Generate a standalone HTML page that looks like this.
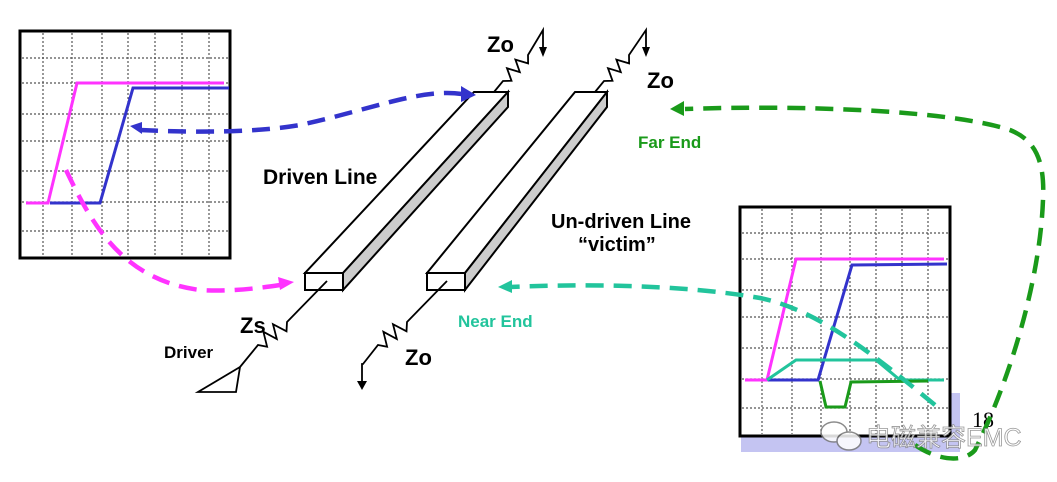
<!DOCTYPE html>
<html><head><meta charset="utf-8"><style>
html,body{margin:0;padding:0;background:#fff;}
svg{display:block;}
text{font-family:"Liberation Sans","Noto Sans CJK SC",sans-serif;font-weight:bold;}
</style></head><body>
<svg width="1057" height="482" viewBox="0 0 1057 482" xmlns="http://www.w3.org/2000/svg">
<!-- left scope -->
<rect x="20" y="31" width="210" height="227" fill="#fff" stroke="#000" stroke-width="3"/>
<g stroke="#555" stroke-width="1.2" stroke-dasharray="2,2">
<line x1="43" y1="33" x2="43" y2="256"/><line x1="72" y1="33" x2="72" y2="256"/><line x1="102" y1="33" x2="102" y2="256"/><line x1="128" y1="33" x2="128" y2="256"/><line x1="155" y1="33" x2="155" y2="256"/><line x1="182" y1="33" x2="182" y2="256"/><line x1="209" y1="33" x2="209" y2="256"/>
<line x1="22" y1="58" x2="228" y2="58"/><line x1="22" y1="83" x2="228" y2="83"/><line x1="22" y1="114" x2="228" y2="114"/><line x1="22" y1="141" x2="228" y2="141"/><line x1="22" y1="171" x2="228" y2="171"/><line x1="22" y1="202" x2="228" y2="202"/><line x1="22" y1="231" x2="228" y2="231"/>
</g>
<polyline points="26,203 48,203 77,83 224,83" fill="none" stroke="#ff33ff" stroke-width="3"/>
<polyline points="50,203 100,203 133,88 229,88" fill="none" stroke="#3333cc" stroke-width="3"/>
<!-- right scope -->
<rect x="741" y="393" width="219" height="59" fill="#c4c4f2"/>
<rect x="740" y="207" width="210" height="229" fill="#fff" stroke="#000" stroke-width="3"/>
<g stroke="#555" stroke-width="1.2" stroke-dasharray="2,2">
<line x1="762" y1="209" x2="762" y2="434"/><line x1="792" y1="209" x2="792" y2="434"/><line x1="821" y1="209" x2="821" y2="434"/><line x1="850" y1="209" x2="850" y2="434"/><line x1="876" y1="209" x2="876" y2="434"/><line x1="902" y1="209" x2="902" y2="434"/><line x1="928" y1="209" x2="928" y2="434"/>
<line x1="742" y1="233" x2="948" y2="233"/><line x1="742" y1="259" x2="948" y2="259"/><line x1="742" y1="290" x2="948" y2="290"/><line x1="742" y1="317" x2="948" y2="317"/><line x1="742" y1="348" x2="948" y2="348"/><line x1="742" y1="379" x2="948" y2="379"/><line x1="742" y1="408" x2="948" y2="408"/>
</g>
<polyline points="745,380 767,380 796,259 944,259" fill="none" stroke="#ff33ff" stroke-width="3"/>
<polyline points="768,380 818,380 852,265 947,264" fill="none" stroke="#3333cc" stroke-width="3"/>
<polyline points="767,380 796,360 876,360 900,380 944,380" fill="none" stroke="#22c49c" stroke-width="3"/>
<polyline points="820,381 826,407 845,407 851,382 928,381" fill="none" stroke="#1a9a1a" stroke-width="3"/>
<text x="972" y="427" font-size="22" style="font-family:'Liberation Serif',serif;font-weight:normal">18</text>
<!-- bars -->
<polygon points="305,273 343,273 508,92 474,92" fill="#fff" stroke="#000" stroke-width="2"/>
<polygon points="343,273 343,290 508,107 508,92" fill="#ccc" stroke="#000" stroke-width="2"/>
<rect x="305" y="273" width="38" height="17" fill="#fff" stroke="#000" stroke-width="2"/>
<polygon points="427,273 465,273 607,92 575,92" fill="#fff" stroke="#000" stroke-width="2"/>
<polygon points="465,273 465,290 607,107 607,92" fill="#ccc" stroke="#000" stroke-width="2"/>
<rect x="427" y="273" width="38" height="17" fill="#fff" stroke="#000" stroke-width="2"/>
<!-- circuits -->
<g fill="none" stroke="#000" stroke-width="1.8" stroke-linejoin="miter">
<polyline points="327,281 287,322 286.5,331.3 273,324.2 276.8,339 263.4,331.8 267.1,346.7 258,345 240,367"/>
<polygon points="198,392 236,392 240,367"/>
<polyline points="447,281 407,322 406.5,331.3 393,324.2 396.8,339 383.4,331.8 387.1,346.7 378,345 363,364 362,364 362,383"/>
<polyline points="494,92 503,81 511.5,80.8 507,68.2 519.8,72.1 515.4,59.6 528.1,63.4 528,55 543,30 543,50"/>
<polyline points="595,92 604,81 612.5,80.8 608,68.2 620.8,72.1 616.4,59.6 629.1,63.4 629,55 646,30 646,50"/>
</g>
<g fill="#000">
<polygon points="357,381 367,381 362,390"/>
<polygon points="539,47 547,47 543,57"/>
<polygon points="642,47 650,47 646,57"/>
</g>
<!-- labels -->
<text x="263" y="184" font-size="21">Driven Line</text>
<text x="551" y="228" font-size="20">Un-driven Line</text>
<text x="578" y="251" font-size="20">“victim”</text>
<text x="638" y="148" font-size="17" fill="#1a9a1a">Far End</text>
<text x="458" y="327" font-size="17" fill="#22c49c">Near End</text>
<text x="240" y="333" font-size="22">Zs</text>
<text x="164" y="358" font-size="17">Driver</text>
<text x="405" y="365" font-size="22">Zo</text>
<text x="487" y="52" font-size="22">Zo</text>
<text x="647" y="88" font-size="22">Zo</text>
<!-- dashed arrows -->
<path d="M140,130 C200,133 260,132 300,125 C370,110 420,88 462,94" fill="none" stroke="#3333cc" stroke-width="4.5" stroke-dasharray="18,10"/>
<polygon points="461,86 476,95 461,102" fill="#3333cc"/>
<polygon points="142,122 130,126 142,134" fill="#3333cc"/>
<path d="M66,170 C90,220 120,280 200,290 C230,292 260,288 280,285" fill="none" stroke="#ff33ff" stroke-width="4.5" stroke-dasharray="18,10"/>
<polygon points="278,277 294,282 280,290" fill="#ff33ff"/>
<path d="M935,405 C880,360 820,310 760,298 C680,284 580,284 510,287" fill="none" stroke="#22c49c" stroke-width="4.5" stroke-dasharray="18,10"/>
<polygon points="512,280 498,287 512,293" fill="#22c49c"/>
<path d="M915,445 C940,462 965,462 975,450 C1010,380 1040,280 1043,200 C1045,160 1035,140 1010,130 C950,110 800,105 685,109" fill="none" stroke="#1a9a1a" stroke-width="4.5" stroke-dasharray="18,10"/>
<polygon points="684,101 670,109 684,116" fill="#1a9a1a"/>
<!-- watermark -->
<g opacity="0.85">
<ellipse cx="834" cy="432" rx="13" ry="10" fill="#fff" stroke="#777" stroke-width="1.5"/>
<ellipse cx="849" cy="441" rx="12" ry="9" fill="#fff" stroke="#777" stroke-width="1.5"/>
<text x="866" y="446" font-size="25" fill="#fff" stroke="#888" stroke-width="0.8" style="font-weight:normal">电磁兼容EMC</text>
</g>
</svg>
</body></html>
